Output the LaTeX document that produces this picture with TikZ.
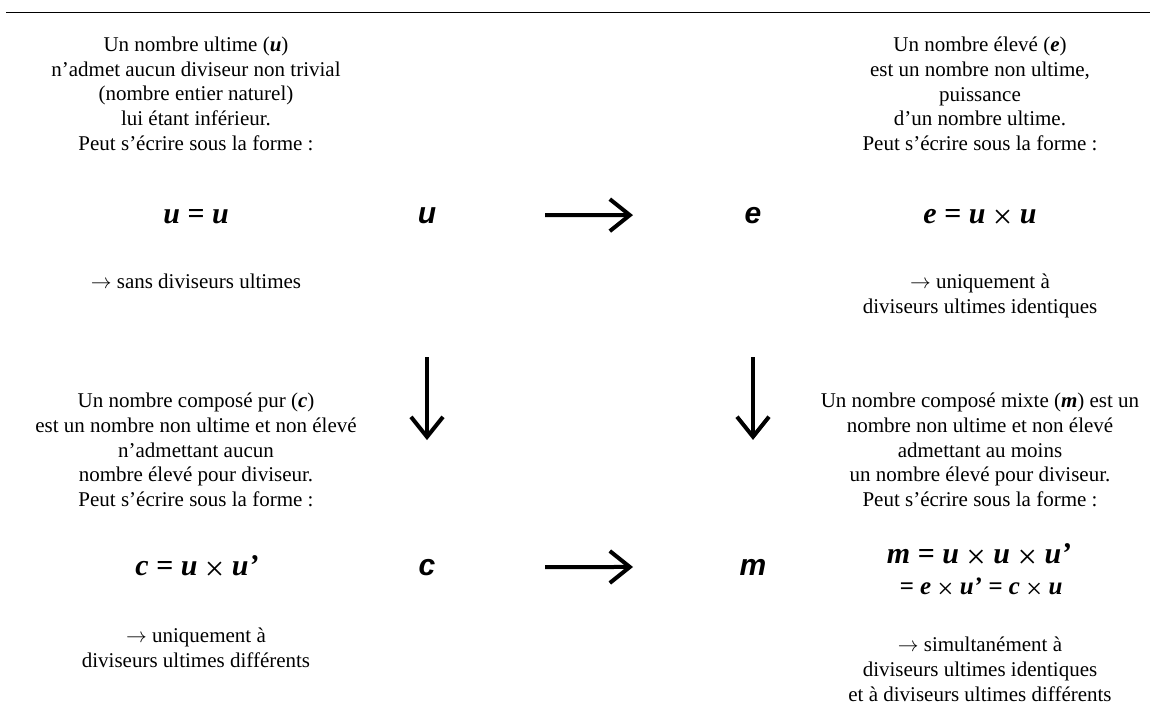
\documentclass[tikz,border=0pt]{standalone}
\usepackage{fontspec}
\setmainfont{Liberation Serif}
\newfontfamily\arialfont{Liberation Sans}
\usetikzlibrary{arrows.meta}
\newcommand{\bim}[1]{\textbf{\textit{#1}}}
\newcommand{\thinarrow}{$\rightarrow$}
\newcommand{\tms}{{\fontsize{1.15em}{1em}\selectfont\mdseries\upshape\raisebox{-0.16em}{×}}}
\begin{document}
\begin{tikzpicture}[x=1pt,y=-1pt,
  txt/.style={align=center, font=\fontsize{21}{24.6}\selectfont, inner sep=0pt, anchor=north},
  formula/.style={font=\fontsize{30}{34}\selectfont\bfseries\itshape, inner sep=0pt, anchor=base},
  formulasmall/.style={font=\fontsize{25}{28}\selectfont\bfseries\itshape, inner sep=0pt, anchor=base},
  letter/.style={font=\arialfont\fontsize{30}{34}\selectfont\bfseries\itshape, inner sep=0pt, anchor=base},
  bigarrow/.style={line width=4pt, -{Straight Barb[length=20pt,width=32pt]}},
  rule/.style={line width=1pt}]
\useasboundingbox (0,0) rectangle (1155,706);
\coordinate (rl) at (6,13);
\coordinate (rr) at (1150,13);
\draw[rule] (rl) -- (rr);

% top left
\node[txt] (tl) at (196,37) {Un nombre ultime (\bim{u})\\n’admet aucun diviseur non trivial\\(nombre entier naturel)\\lui étant inférieur.\\Peut s’écrire sous la forme :};
\node[formula] (fu) at (196,223) {u = u};
\node[txt] (tlr) at (196,274) {\thinarrow\ sans diviseurs ultimes};

% top right
\node[txt] (tr) at (980,37) {Un nombre élevé (\bim{e})\\est un nombre non ultime,\\puissance\\d’un nombre ultime.\\Peut s’écrire sous la forme :};
\node[formula] (fe) at (980,223) {e = u \tms\ u};
\node[txt] (trr) at (980,274) {\thinarrow\ uniquement à\\diviseurs ultimes identiques};

% bottom left
\node[txt] (bl) at (196,393) {Un nombre composé pur (\bim{c})\\est un nombre non ultime et non élevé\\n’admettant aucun\\nombre élevé pour diviseur.\\Peut s’écrire sous la forme :};
\node[formula] (fc) at (197,575) {c = u \tms\ u’};
\node[txt] (blr) at (196,628) {\thinarrow\ uniquement à\\diviseurs ultimes différents};

% bottom right
\node[txt] (br) at (980,393) {Un nombre composé mixte (\bim{m}) est un\\nombre non ultime et non élevé\\admettant au moins\\un nombre élevé pour diviseur.\\Peut s’écrire sous la forme :};
\node[formula] (fm) at (979,563) {m = u \tms\ u \tms\ u’};
\node[formulasmall] (fm2) at (981,594) {= e \tms\ u’ = c \tms\ u};
\node[txt] (brr) at (980,637) {\thinarrow\ simultanément à\\diviseurs ultimes identiques\\et à diviseurs ultimes différents};

% central diagram
\node[letter] (u) at (427,223) {u};
\node[letter] (e) at (753,223) {e};
\node[letter] (c) at (427,575) {c};
\node[letter] (m) at (753,575) {m};

\draw[bigarrow, shorten <=118pt, shorten >=120pt] (u.center) -- (e.center);
\draw[bigarrow, shorten <=118pt, shorten >=120pt] (c.center) -- (m.center);
\draw[bigarrow, shorten <=142pt, shorten >=127pt] (u.center) -- (c.center);
\draw[bigarrow, shorten <=142pt, shorten >=127pt] (e.center) -- (m.center);
\end{tikzpicture}
\end{document}
